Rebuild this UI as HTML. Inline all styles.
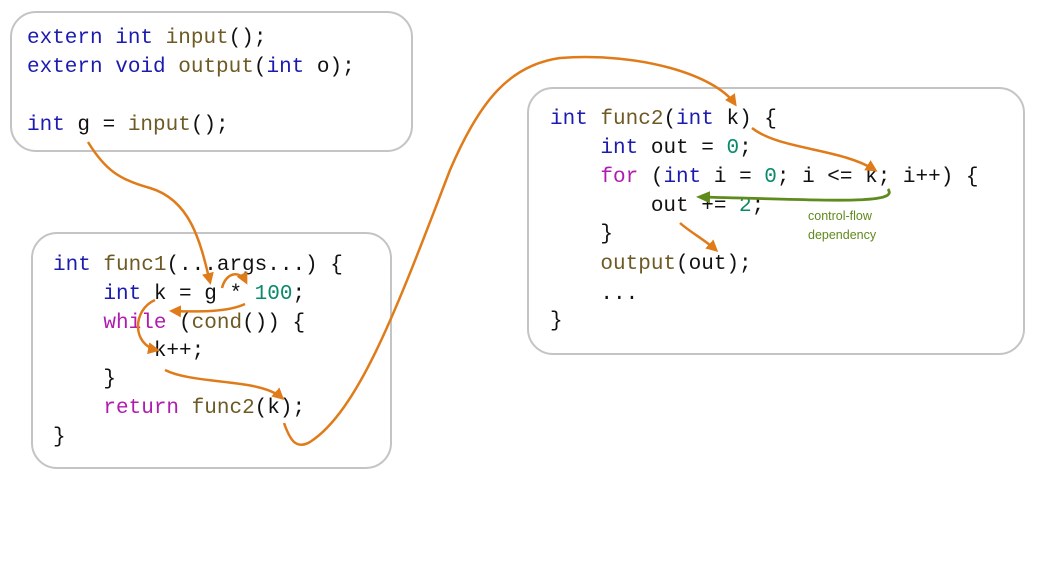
<!DOCTYPE html>
<html><head><meta charset="utf-8"><style>
body{margin:0;width:1037px;height:584px;background:#fff;position:relative;overflow:hidden;font-family:"Liberation Mono",monospace;}
.box{position:absolute;border:2.5px solid #c4c4c4;border-radius:26px;box-sizing:border-box;background:#fff;}
.l{position:absolute;font-size:21px;line-height:29px;white-space:pre;color:#111;}
.k{color:#1b1bb0}.f{color:#6e5a24}.n{color:#098a6a}.p{color:#b01cb0}
svg{position:absolute;left:0;top:0}
.c{position:absolute;font-family:"Liberation Sans",sans-serif;font-size:12.5px;color:#5f8a1c;line-height:19px}
</style></head><body>
<div class="box" style="left:10px;top:11px;width:403px;height:141px"></div>
<div class="box" style="left:31px;top:232px;width:361px;height:237px"></div>
<div class="box" style="left:527px;top:87px;width:498px;height:268px"></div>

<div class="l" style="left:27px;top:24px"><span class="k">extern int</span> <span class="f">input</span>();</div>
<div class="l" style="left:27px;top:53px"><span class="k">extern void</span> <span class="f">output</span>(<span class="k">int</span> o);</div>
<div class="l" style="left:27px;top:111px"><span class="k">int</span> g = <span class="f">input</span>();</div>

<div class="l" style="left:53px;top:251px"><span class="k">int</span> <span class="f">func1</span>(...args...) {</div>
<div class="l" style="left:53px;top:280px">    <span class="k">int</span> k = g * <span class="n">100</span>;</div>
<div class="l" style="left:53px;top:309px">    <span class="p">while</span> (<span class="f">cond</span>()) {</div>
<div class="l" style="left:53px;top:337px">        k++;</div>
<div class="l" style="left:53px;top:365px">    }</div>
<div class="l" style="left:53px;top:394px">    <span class="p">return</span> <span class="f">func2</span>(k);</div>
<div class="l" style="left:53px;top:423px">}</div>

<div class="l" style="left:550px;top:105px"><span class="k">int</span> <span class="f">func2</span>(<span class="k">int</span> k) {</div>
<div class="l" style="left:550px;top:134px">    <span class="k">int</span> out = <span class="n">0</span>;</div>
<div class="l" style="left:550px;top:163px">    <span class="p">for</span> (<span class="k">int</span> i = <span class="n">0</span>; i &lt;= k; i++) {</div>
<div class="l" style="left:550px;top:192px">        out += <span class="n">2</span>;</div>
<div class="l" style="left:550px;top:220px">    }</div>
<div class="l" style="left:550px;top:250px">    <span class="f">output</span>(out);</div>
<div class="l" style="left:550px;top:280px">    ...</div>
<div class="l" style="left:550px;top:307px">}</div>

<div class="c" style="left:808px;top:207px">control-flow<br>dependency</div>

<svg width="1037" height="584" viewBox="0 0 1037 584">
<defs>
<marker id="a" markerWidth="12" markerHeight="12" refX="9" refY="6" orient="auto" markerUnits="userSpaceOnUse"><path d="M0,0 L12,6 L0,12 z" fill="#e07b1a"/></marker>
<marker id="g" markerWidth="14" markerHeight="12" refX="10" refY="6" orient="auto" markerUnits="userSpaceOnUse"><path d="M0,0 L14,6 L0,12 z" fill="#5f8a1c"/></marker>
</defs>
<g fill="none" stroke="#e07b1a" stroke-width="2.5" marker-end="url(#a)">
<path d="M88,142 C105,170 120,180 150,188 C190,200 200,240 210,282"/>
<path d="M222,288 C226,272 240,270 246,282"/>
<path d="M245,304 C228,312 200,312 172,311"/>
<path d="M155,300 C132,310 132,345 157,350"/>
<path d="M165,370 C195,385 260,378 282,398"/>
<path d="M284,423 C290,440 296,450 310,442 C360,410 400,300 450,170 C480,100 510,65 560,58 C640,52 715,75 735,104"/>
<path d="M752,128 C780,150 840,148 875,170"/>
<path d="M680,223 C690,232 705,240 716,250"/>
</g>
<path d="M888,189 C900,205 830,200 700,197" fill="none" stroke="#5f8a1c" stroke-width="2.8" marker-end="url(#g)"/>
</svg>
</body></html>
